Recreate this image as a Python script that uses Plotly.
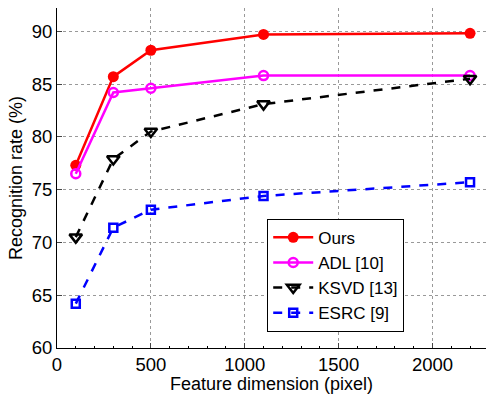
import plotly.graph_objects as go

dims = [100, 300, 500, 1100, 2200]
ours = [77.3, 85.7, 88.2, 89.7, 89.8]
adl = [76.5, 84.2, 84.6, 85.8, 85.8]
ksvd = [70.5, 77.9, 80.5, 83.1, 85.5]
esrc = [64.2, 71.4, 73.1, 74.4, 75.7]

names = ["Ours", "ADL [10]", "KSVD [13]", "ESRC [9]"]
xticks = [0, 500, 1000, 1500, 2000]
yticks = [60, 65, 70, 75, 80, 85, 90]

fig = go.Figure()
fig.add_trace(go.Scatter(x=dims, y=ours, name=names[0], mode="lines+markers",
                         line=dict(color="red", width=2.5),
                         marker=dict(symbol="circle", size=11, color="red")))
fig.add_trace(go.Scatter(x=dims, y=adl, name=names[1], mode="lines+markers",
                         line=dict(color="magenta", width=2.5),
                         marker=dict(symbol="circle-open", size=9, color="magenta", line=dict(width=2.5))))
fig.add_trace(go.Scatter(x=dims, y=ksvd, name=names[2], mode="lines+markers",
                         line=dict(color="black", width=2.5, dash="dash"),
                         marker=dict(symbol="triangle-down-open", size=11, color="black", line=dict(width=2.5))))
fig.add_trace(go.Scatter(x=dims, y=esrc, name=names[3], mode="lines+markers",
                         line=dict(color="blue", width=2.5, dash="dash"),
                         marker=dict(symbol="square-open", size=8, color="blue", line=dict(width=2.5))))

font = "Liberation Sans, Arial, Helvetica, sans-serif"
fig.update_layout(
    width=486, height=394,
    margin=dict(l=57, r=0, t=8, b=46),
    plot_bgcolor="white", paper_bgcolor="white",
    font=dict(family=font, size=18, color="black"),
    showlegend=True,
    legend=dict(x=0.49, y=0.38, xanchor="left", yanchor="top",
                bordercolor="black", borderwidth=1, bgcolor="white",
                font=dict(size=17), tracegroupgap=0, itemwidth=40),
    xaxis=dict(range=[0, 2285], tickvals=xticks, ticks="inside", ticklen=5,
               showline=True, linecolor="black", linewidth=1,
               showgrid=True, gridcolor="#999999", griddash="dot", gridwidth=1,
               zeroline=False, tickfont=dict(size=18.5),
               title=dict(text="Feature dimension (pixel)", font=dict(size=18), standoff=1),
               minor=dict(dtick=100, ticks="inside", ticklen=2, tickcolor="black", showgrid=False)),
    yaxis=dict(range=[60, 92.2], tickvals=yticks, ticks="inside", ticklen=5,
               showline=True, linecolor="black", linewidth=1,
               showgrid=True, gridcolor="#999999", griddash="dot", gridwidth=1,
               zeroline=False, tickfont=dict(size=18.5),
               title=dict(text="Recognition rate (%)", font=dict(size=18), standoff=4)),
)
fig.write_html("out.html")
